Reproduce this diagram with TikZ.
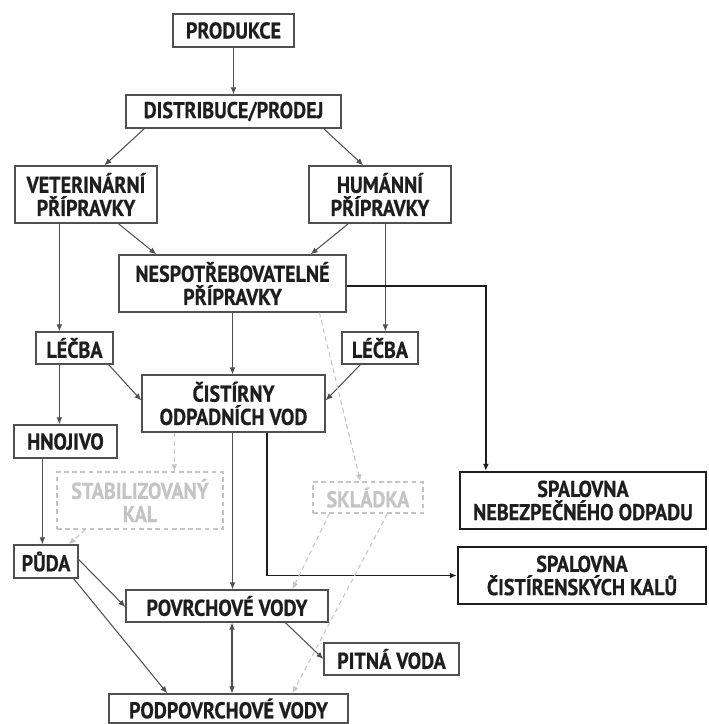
\documentclass[tikz,border=0pt]{standalone}
\usepackage{fontspec}
\setmainfont{PT Sans}[FakeStretch=0.88, BoldFeatures={FakeBold=0.6}]
\usetikzlibrary{calc, arrows.meta}
\definecolor{Ink}{HTML}{1E1E1E}
\definecolor{Frame}{HTML}{505050}
\definecolor{Faint}{HTML}{C4C4C4}
\newcommand{\pxu}{0.03cm}
\tikzset{
    box/.style={rectangle, draw=Frame, line width=1.1pt, text=Ink, align=center, inner sep=1pt,
        font=\bfseries\fontsize{19.5}{19.8}\selectfont, minimum height=33*\pxu},
    tallbox/.style={box, minimum height=57*\pxu},
    heavybox/.style={tallbox, line width=2pt, draw=Ink},
    ghostbox/.style={box, draw=Faint, text=Faint, dashed, dash pattern=on 4pt off 3pt},
    arrow/.style={-{Latex[length=6pt,width=5pt]}, line width=0.9pt, color=Frame},
    heavyarrow/.style={arrow, line width=1.6pt, color=Ink},
    ghostarrow/.style={arrow, color=Faint, dash pattern=on 4pt off 3pt},
}
\begin{document}
\begin{tikzpicture}[x=0.03cm, y=-0.03cm]
                \useasboundingbox (0,0) rectangle (709,724);

                % Vyroba a distribuce
                \node[box, minimum width=121*\pxu] (prod) at (233.5,30.5) {PRODUKCE};
                \node[box, minimum width=215*\pxu] (dist) at (233.5,111.5) {DISTRIBUCE/PRODEJ};
                \node[tallbox, minimum width=142*\pxu] (vet) at (86,194.5) {VETERINÁRNÍ\\PŘÍPRAVKY};
                \node[tallbox, minimum width=142*\pxu] (hum) at (380,194.5) {HUMÁNNÍ\\PŘÍPRAVKY};
                \node[tallbox, minimum width=227*\pxu] (nesp) at (232.5,283.5) {NESPOTŘEBOVATELNÉ\\PŘÍPRAVKY};

                % Lecba a cistirny
                \node[box, minimum width=77*\pxu, minimum height=32*\pxu] (lecL) at (74.5,348) {LÉČBA};
                \node[box, minimum width=76*\pxu, minimum height=32*\pxu] (lecR) at (380,348) {LÉČBA};
                \node[tallbox, minimum width=183*\pxu] (cist) at (233.5,403.5) {ČISTÍRNY\\ODPADNÍCH VOD};
                \node[box, minimum width=103*\pxu] (hnoj) at (65.5,441.5) {HNOJIVO};
                \node[ghostbox, minimum width=166*\pxu, minimum height=57*\pxu] (stab) at (140,500.5) {STABILIZOVANÝ\\KAL};
                \node[ghostbox, minimum width=110*\pxu, minimum height=31*\pxu] (skl) at (368,497.5) {SKLÁDKA};

                % Spalovny
                \node[heavybox, minimum width=246*\pxu] (spN) at (583,500.5) {SPALOVNA\\NEBEZPEČNÉHO ODPADU};
                \node[heavybox, minimum width=248*\pxu] (spC) at (582,575.5) {SPALOVNA\\ČISTÍRENSKÝCH KALŮ};

                % Pudy a vody
                \node[box, minimum width=64*\pxu] (puda) at (46,561.5) {PŮDA};
                \node[box, minimum width=202*\pxu, minimum height=32*\pxu] (povr) at (227,606) {POVRCHOVÉ VODY};
                \node[box, minimum width=135*\pxu, minimum height=32*\pxu] (pitna) at (391.5,659) {PITNÁ VODA};
                \node[box, minimum width=239*\pxu, minimum height=29*\pxu] (podp) at (228.5,708.5) {PODPOVRCHOVÉ VODY};

                % Pomocne body
                \coordinate (vetL) at ($(vet.south west)+(45,0)$);
                \coordinate (humR) at ($(hum.south west)+(77,0)$);
                \coordinate (lecLL) at ($(lecL.south west)+(24,0)$);
                \coordinate (hnojL) at ($(hnoj.south west)+(29,0)$);
                \coordinate (cistM) at ($(cist.south)+(-1,0)$);
                \coordinate (cistK) at ($(cist.south west)+(126,0)$);
                \coordinate (cistS) at ($(cist.south west)+(33,0)$);
                \coordinate (spNin) at ($(spN.north west)+(27,0)$);
                \coordinate (nespR) at ($(nesp.east)+(0,2.5)$);
                \coordinate (povrV) at ($(povr.south)+(5,0)$);

                % Sipky
                \draw[arrow] (prod) -- (dist);
                \draw[arrow] ($(dist.south west)+(19,0)$) -- ($(vet.north west)+(90,0)$);
                \draw[arrow] ($(dist.south east)+(-18,0)$) -- ($(hum.north west)+(55,0)$);
                \draw[arrow] ($(vet.south west)+(104,0)$) -- ($(nesp.north west)+(38,0)$);
                \draw[arrow] ($(hum.south west)+(40,0)$) -- ($(nesp.north east)+(-36,0)$);
                \draw[arrow] (vetL) -- (vetL |- lecL.north);
                \draw[arrow] (humR) -- (humR |- lecR.north);
                \draw[heavyarrow] (nespR) -| (spNin);
                \draw[arrow] (nesp.south) -- (nesp.south |- cist.north);
                \draw[arrow] ($(lecL.south east)+(-5,0)$) -- ($(cist.west)+(0,-3)$);
                \draw[arrow] ($(lecR.south west)+(19,0)$) -- ($(cist.east)+(0,-3)$);
                \draw[arrow] (lecLL) -- (lecLL |- hnoj.north);
                \draw[arrow] (hnojL) -- (hnojL |- puda.north);
                \draw[arrow] (cistM) -- (cistM |- povr.north);
                \draw[heavyarrow] (cistK) |- (spC.west);
                \draw[arrow] ($(puda.east)+(0,-2)$) -- ($(povr.west)+(0,1)$);
                \draw[arrow] ($(puda.south east)+(-5,0)$) -- ($(podp.north west)+(59,0)$);
                \draw[arrow, {Latex[length=6pt,width=5pt]}-{Latex[length=6pt,width=5pt]}] (povrV) -- (povrV |- podp.north);
                \draw[arrow] ($(povr.south west)+(160,0)$) -- (pitna.west);

                % Skladka a kal (carkovane)
                \draw[ghostarrow] (cistS) -- (cistS |- stab.north);
                \draw[ghostarrow] ($(nesp.south west)+(201,0)$) -- ($(skl.north west)+(48,0)$);
                \draw[ghostarrow] ($(stab.south west)+(29,0)$) -- ($(puda.north east)+(-10,0)$);
                \draw[ghostarrow] ($(skl.south west)+(17,0)$) -- ($(povr.north west)+(167,0)$);
                \draw[ghostarrow] ($(skl.south west)+(75,0)$) -- ($(podp.north west)+(184,0)$);
\end{tikzpicture}
\end{document}
